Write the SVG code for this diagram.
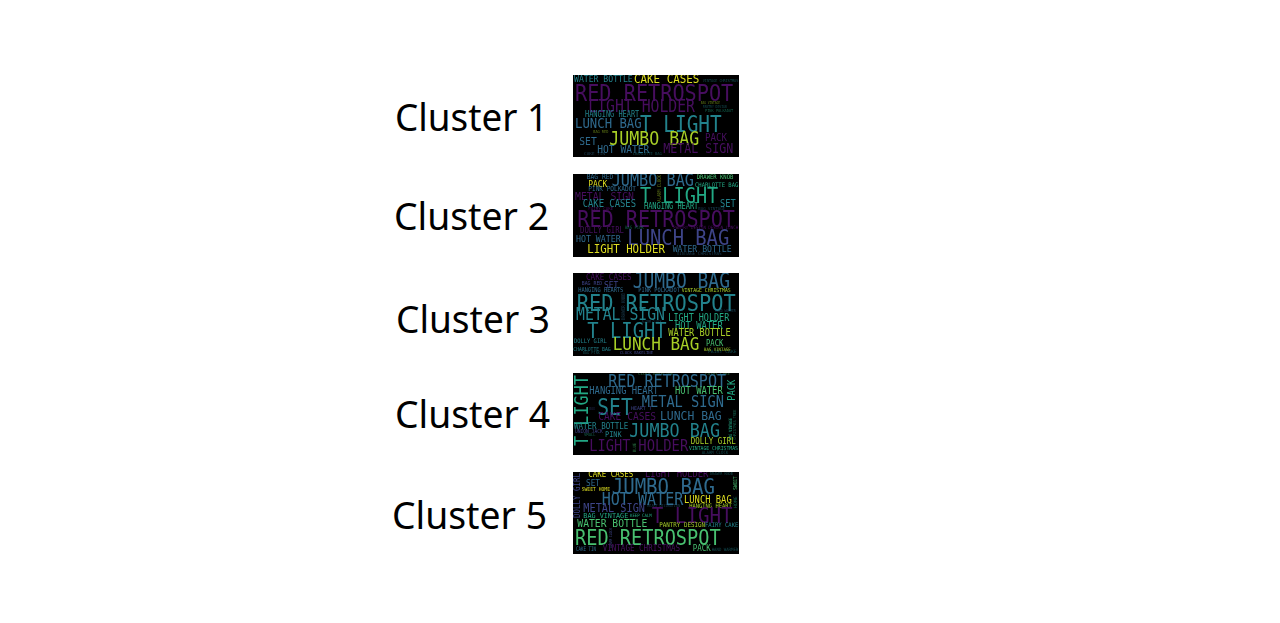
<svg xmlns="http://www.w3.org/2000/svg" width="1280" height="623" viewBox="0 0 1280 623">
<style>
.l{font-family:"Noto Sans","Open Sans","Liberation Sans",sans-serif;font-size:38px;fill:#000}
.bg{fill:#000}
.w text{font-family:"DejaVu Sans Mono","Liberation Mono",monospace}
.a{fill:#46105e}.b{fill:#3e4488}.c{fill:#2f6a8e}.d{fill:#23828c}.e{fill:#22a884}.f{fill:#48c070}.g{fill:#a8cf28}.h{fill:#dcdc20}.s{opacity:.55}
</style>
<defs>
<filter id="soft" x="-5%" y="-5%" width="110%" height="110%"><feGaussianBlur stdDeviation="0.45"/></filter>
<clipPath id="c1"><rect x="573" y="75" width="166" height="82"/></clipPath>
<clipPath id="c2"><rect x="573" y="174" width="166" height="83"/></clipPath>
<clipPath id="c3"><rect x="573" y="273" width="166" height="83"/></clipPath>
<clipPath id="c4"><rect x="573" y="373" width="166" height="82"/></clipPath>
<clipPath id="c5"><rect x="573" y="472" width="166" height="82"/></clipPath>
</defs>
<g id="cluster-1">
<text class="l" x="395" y="131" textLength="153" lengthAdjust="spacingAndGlyphs">Cluster 1</text>
<rect class="bg" x="573" y="75" width="166" height="82"/>
<g class="w" clip-path="url(#c1)"><g filter="url(#soft)">
<text class="d" x="574" y="82.3" font-size="9.3" textLength="58.7" lengthAdjust="spacingAndGlyphs">WATER BOTTLE</text>
<text class="h" x="634" y="82.7" font-size="12.4" textLength="65.3" lengthAdjust="spacingAndGlyphs">CAKE CASES</text>
<text class="a" x="575" y="100.7" font-size="23.2" textLength="158.3" lengthAdjust="spacingAndGlyphs">RED RETROSPOT</text>
<text class="a" x="588.3" y="111.7" font-size="17" textLength="106.7" lengthAdjust="spacingAndGlyphs">LIGHT HOLDER</text>
<text class="d" x="585" y="116.7" font-size="8" textLength="54.3" lengthAdjust="spacingAndGlyphs">HANGING HEART</text>
<text class="d" x="640" y="131.7" font-size="22.3" textLength="81.7" lengthAdjust="spacingAndGlyphs">T LIGHT</text>
<text class="c" x="575" y="128.3" font-size="14.1" textLength="66.7" lengthAdjust="spacingAndGlyphs">LUNCH BAG</text>
<text class="g" x="609.3" y="145" font-size="19.1" textLength="90" lengthAdjust="spacingAndGlyphs">JUMBO BAG</text>
<text class="a" x="705" y="141" font-size="10.5" textLength="22" lengthAdjust="spacingAndGlyphs">PACK</text>
<text class="c" x="579.3" y="145" font-size="11" textLength="17.4" lengthAdjust="spacingAndGlyphs">SET</text>
<text class="c" x="597.3" y="152.7" font-size="11" textLength="52" lengthAdjust="spacingAndGlyphs">HOT WATER</text>
<text class="a" x="663.3" y="153.3" font-size="13.3" textLength="70" lengthAdjust="spacingAndGlyphs">METAL SIGN</text>
<text class="d s" x="702.7" y="81.7" font-size="4" textLength="35.6" lengthAdjust="spacingAndGlyphs">VINTAGE CHRISTMAS</text>
<text class="g s" x="700.7" y="104.3" font-size="4" textLength="19.3" lengthAdjust="spacingAndGlyphs">BAG VINTAGE</text>
<text class="d s" x="702.7" y="107.7" font-size="4" textLength="24" lengthAdjust="spacingAndGlyphs">PANTRY DESIGN</text>
<text class="e s" x="705" y="111.7" font-size="4" textLength="28.3" lengthAdjust="spacingAndGlyphs">PINK POLKADOT</text>
<text class="g s" x="593.3" y="132.7" font-size="4" textLength="15" lengthAdjust="spacingAndGlyphs">BAG RED</text>
<text class="c s" x="584" y="155" font-size="4" textLength="21" lengthAdjust="spacingAndGlyphs">CAKE TIN</text>
<text class="d s" x="632.7" y="155" font-size="4" textLength="29" lengthAdjust="spacingAndGlyphs">CHARLOTTE BAG</text>
</g></g>
</g>
<g id="cluster-2">
<text class="l" x="394" y="230" textLength="155" lengthAdjust="spacingAndGlyphs">Cluster 2</text>
<rect class="bg" x="573" y="174" width="166" height="83"/>
<g class="w" clip-path="url(#c2)"><g filter="url(#soft)">
<text class="c" x="586.7" y="179" font-size="7.2" textLength="26.6" lengthAdjust="spacingAndGlyphs">BAG RED</text>
<text class="c" x="611.7" y="185.7" font-size="17.5" textLength="82.3" lengthAdjust="spacingAndGlyphs">JUMBO BAG</text>
<text class="f" x="696.7" y="178.7" font-size="6.3" textLength="36.6" lengthAdjust="spacingAndGlyphs">DRAWER KNOB</text>
<text class="h" x="588.3" y="186.7" font-size="9.2" textLength="19" lengthAdjust="spacingAndGlyphs">PACK</text>
<text class="e" x="695" y="186.7" font-size="6.3" textLength="43.3" lengthAdjust="spacingAndGlyphs">CHARLOTTE BAG</text>
<text class="g s" transform="translate(661,201.7) rotate(-90)" font-size="5.2" textLength="26.7" lengthAdjust="spacingAndGlyphs">ALARM CLOCK</text>
<text class="c" x="588.3" y="191" font-size="6.9" textLength="47.7" lengthAdjust="spacingAndGlyphs">PINK POLKADOT</text>
<text class="a" x="575" y="200" font-size="11.3" textLength="59" lengthAdjust="spacingAndGlyphs">METAL SIGN</text>
<text class="e" x="640" y="202.7" font-size="21.4" textLength="78.3" lengthAdjust="spacingAndGlyphs">T LIGHT</text>
<text class="d" x="582.7" y="206.7" font-size="10.1" textLength="53.3" lengthAdjust="spacingAndGlyphs">CAKE CASES</text>
<text class="e" x="644" y="209" font-size="8" textLength="54.3" lengthAdjust="spacingAndGlyphs">HANGING HEART</text>
<text class="d" x="720" y="206.7" font-size="10" textLength="15.7" lengthAdjust="spacingAndGlyphs">SET</text>
<text class="a" x="588.3" y="209.5" font-size="4" textLength="25" lengthAdjust="spacingAndGlyphs">FAIRY CAKE</text>
<text class="c s" x="698.3" y="209.5" font-size="4" textLength="26.7" lengthAdjust="spacingAndGlyphs">BAG VINTAGE</text>
<text class="a" x="577.3" y="226.7" font-size="23" textLength="157.7" lengthAdjust="spacingAndGlyphs">RED RETROSPOT</text>
<text class="a" x="580" y="233.3" font-size="8.4" textLength="44" lengthAdjust="spacingAndGlyphs">DOLLY GIRL</text>
<text class="e s" x="625" y="229.3" font-size="4.6" textLength="19" lengthAdjust="spacingAndGlyphs">BAG PINK</text>
<text class="a" x="673.3" y="229.3" font-size="4.6" textLength="32.7" lengthAdjust="spacingAndGlyphs">PANTRY DESIGN</text>
<text class="a" x="708.3" y="229.3" font-size="4.6" textLength="30" lengthAdjust="spacingAndGlyphs">DESIGN LUNCH</text>
<text class="c" x="576" y="241.7" font-size="9.5" textLength="44.7" lengthAdjust="spacingAndGlyphs">HOT WATER</text>
<text class="b" x="627.3" y="245" font-size="21.6" textLength="102" lengthAdjust="spacingAndGlyphs">LUNCH BAG</text>
<text class="h" x="587.3" y="253.3" font-size="12.3" textLength="77.7" lengthAdjust="spacingAndGlyphs">LIGHT HOLDER</text>
<text class="c" x="672.7" y="251.7" font-size="9.4" textLength="59" lengthAdjust="spacingAndGlyphs">WATER BOTTLE</text>
<text class="c s" x="676.7" y="254.5" font-size="4.6" textLength="45" lengthAdjust="spacingAndGlyphs">VINTAGE CHRISTMAS</text>
</g></g>
</g>
<g id="cluster-3">
<text class="l" x="396" y="333" textLength="154" lengthAdjust="spacingAndGlyphs">Cluster 3</text>
<rect class="bg" x="573" y="273" width="166" height="83"/>
<g class="w" clip-path="url(#c3)"><g filter="url(#soft)">
<text class="a" x="586" y="280" font-size="8.7" textLength="45.7" lengthAdjust="spacingAndGlyphs">CAKE CASES</text>
<text class="b" x="581.7" y="285" font-size="5.6" textLength="20.6" lengthAdjust="spacingAndGlyphs">BAG RED</text>
<text class="b" x="604" y="288.3" font-size="9.2" textLength="14.3" lengthAdjust="spacingAndGlyphs">SET</text>
<text class="c" x="632.7" y="288.3" font-size="20.7" textLength="97.3" lengthAdjust="spacingAndGlyphs">JUMBO BAG</text>
<text class="c" x="578.3" y="292.3" font-size="6.4" textLength="45" lengthAdjust="spacingAndGlyphs">HANGING HEARTS</text>
<text class="c" x="638.3" y="292.3" font-size="6.1" textLength="41.7" lengthAdjust="spacingAndGlyphs">PINK POLKADOT</text>
<text class="g" x="681.7" y="292.3" font-size="5.5" textLength="49" lengthAdjust="spacingAndGlyphs">VINTAGE CHRISTMAS</text>
<text class="d" x="576.7" y="310.7" font-size="23.3" textLength="159" lengthAdjust="spacingAndGlyphs">RED RETROSPOT</text>
<text class="d" x="576" y="320" font-size="17" textLength="89" lengthAdjust="spacingAndGlyphs">METAL SIGN</text>
<text class="c s" transform="translate(625,320) rotate(-90)" font-size="5.2" textLength="26.7" lengthAdjust="spacingAndGlyphs">DRAWER KNOB</text>
<text class="c s" x="715" y="311.7" font-size="4" textLength="20.7" lengthAdjust="spacingAndGlyphs">HAND WARMER</text>
<text class="e" x="668.3" y="321" font-size="9.7" textLength="61" lengthAdjust="spacingAndGlyphs">LIGHT HOLDER</text>
<text class="c s" x="641.7" y="323.3" font-size="4" textLength="20" lengthAdjust="spacingAndGlyphs">ALARM CLOCK</text>
<text class="d" x="587.3" y="338.3" font-size="21.6" textLength="79.4" lengthAdjust="spacingAndGlyphs">T LIGHT</text>
<text class="e" x="675" y="329" font-size="10.1" textLength="47.7" lengthAdjust="spacingAndGlyphs">HOT WATER</text>
<text class="g" x="668.3" y="335.7" font-size="9.9" textLength="62.4" lengthAdjust="spacingAndGlyphs">WATER BOTTLE</text>
<text class="d" x="574" y="343.3" font-size="6.2" textLength="32.7" lengthAdjust="spacingAndGlyphs">DOLLY GIRL</text>
<text class="g" x="612.7" y="350" font-size="18.4" textLength="86.6" lengthAdjust="spacingAndGlyphs">LUNCH BAG</text>
<text class="f" x="706" y="346" font-size="8.3" textLength="17.3" lengthAdjust="spacingAndGlyphs">PACK</text>
<text class="g" x="704" y="351" font-size="4.6" textLength="26.7" lengthAdjust="spacingAndGlyphs">BAG VINTAGE</text>
<text class="d" x="573.3" y="351" font-size="5.5" textLength="37.4" lengthAdjust="spacingAndGlyphs">CHARLOTTE BAG</text>
<text class="d s" x="582.7" y="354" font-size="4" textLength="17.3" lengthAdjust="spacingAndGlyphs">BAG PINK</text>
<text class="b" x="620" y="354.3" font-size="4" textLength="33" lengthAdjust="spacingAndGlyphs">CLOCK BAKELINE</text>
<text class="d s" x="708" y="353.3" font-size="4.6" textLength="28.7" lengthAdjust="spacingAndGlyphs">FAIRY CAKE</text>
</g></g>
</g>
<g id="cluster-4">
<text class="l" x="395" y="428" textLength="155" lengthAdjust="spacingAndGlyphs">Cluster 4</text>
<rect class="bg" x="573" y="373" width="166" height="82"/>
<g class="w" clip-path="url(#c4)"><g filter="url(#soft)">
<text class="f s" x="638.3" y="375.3" font-size="4" textLength="35" lengthAdjust="spacingAndGlyphs">CLOCK BAKELINE</text>
<text class="f s" x="705" y="375.3" font-size="4" textLength="25" lengthAdjust="spacingAndGlyphs">FAIRY CAKE</text>
<text class="e" transform="translate(588,446) rotate(-90)" font-size="19.5" textLength="71" lengthAdjust="spacingAndGlyphs">T LIGHT</text>
<text class="c" x="608.3" y="387.3" font-size="17.2" textLength="117.7" lengthAdjust="spacingAndGlyphs">RED RETROSPOT</text>
<text class="e" transform="translate(735,400.7) rotate(-90)" font-size="10" textLength="21" lengthAdjust="spacingAndGlyphs">PACK</text>
<text class="c" x="589.3" y="393.7" font-size="10.1" textLength="69" lengthAdjust="spacingAndGlyphs">HANGING HEART</text>
<text class="f" x="675" y="393.7" font-size="10.1" textLength="47.7" lengthAdjust="spacingAndGlyphs">HOT WATER</text>
<text class="d" x="597.3" y="414.7" font-size="22.5" textLength="35.4" lengthAdjust="spacingAndGlyphs">SET</text>
<text class="c" x="641.7" y="407.3" font-size="15.7" textLength="82.3" lengthAdjust="spacingAndGlyphs">METAL SIGN</text>
<text class="b s" x="589.3" y="409.7" font-size="4" textLength="5.7" lengthAdjust="spacingAndGlyphs">BOX</text>
<text class="b" x="631" y="409.7" font-size="5.2" textLength="20.7" lengthAdjust="spacingAndGlyphs">HEART T</text>
<text class="c" x="660" y="419.7" font-size="13.1" textLength="61.7" lengthAdjust="spacingAndGlyphs">LUNCH BAG</text>
<text class="a" x="598.3" y="420.3" font-size="11" textLength="57.7" lengthAdjust="spacingAndGlyphs">CAKE CASES</text>
<text class="d" x="574" y="429" font-size="8.6" textLength="54.3" lengthAdjust="spacingAndGlyphs">WATER BOTTLE</text>
<text class="d" x="629.3" y="437" font-size="19.2" textLength="90.7" lengthAdjust="spacingAndGlyphs">JUMBO BAG</text>
<text class="e" transform="translate(731.7,439.7) rotate(-90)" font-size="4.4" textLength="21.7" lengthAdjust="spacingAndGlyphs">BAG VINTAGE</text>
<text class="e s" transform="translate(736,439.7) rotate(-90)" font-size="4" textLength="30" lengthAdjust="spacingAndGlyphs">CHRISTMAS TREE</text>
<text class="b" x="575" y="433" font-size="5.4" textLength="27.7" lengthAdjust="spacingAndGlyphs">UNION JACK</text>
<text class="e s" x="584" y="436.3" font-size="4" textLength="11.7" lengthAdjust="spacingAndGlyphs">SMALL</text>
<text class="d" x="605" y="437" font-size="7.9" textLength="16.7" lengthAdjust="spacingAndGlyphs">PINK</text>
<text class="a" x="589.3" y="450.7" font-size="15.6" textLength="41.3" lengthAdjust="spacingAndGlyphs">LIGHT</text>
<text class="a" x="638.3" y="450.7" font-size="15.6" textLength="50" lengthAdjust="spacingAndGlyphs">HOLDER</text>
<text class="f s" transform="translate(635.7,452) rotate(-90)" font-size="4.4" textLength="9" lengthAdjust="spacingAndGlyphs">BLUE</text>
<text class="g" x="690.7" y="444" font-size="8.6" textLength="45" lengthAdjust="spacingAndGlyphs">DOLLY GIRL</text>
<text class="e" x="689" y="449.7" font-size="5.4" textLength="49" lengthAdjust="spacingAndGlyphs">VINTAGE CHRISTMAS</text>
<text class="d s" x="701.7" y="453.7" font-size="4.6" textLength="26.6" lengthAdjust="spacingAndGlyphs">ALARM CLOCK</text>
</g></g>
</g>
<g id="cluster-5">
<text class="l" x="392" y="529" textLength="155" lengthAdjust="spacingAndGlyphs">Cluster 5</text>
<rect class="bg" x="573" y="472" width="166" height="82"/>
<g class="w" clip-path="url(#c5)"><g filter="url(#soft)">
<text class="b" transform="translate(580,518) rotate(-90)" font-size="8.6" textLength="45" lengthAdjust="spacingAndGlyphs">DOLLY GIRL</text>
<text class="h" x="588.3" y="477.3" font-size="8.6" textLength="45" lengthAdjust="spacingAndGlyphs">CAKE CASES</text>
<text class="a" x="645" y="477.3" font-size="10" textLength="63.3" lengthAdjust="spacingAndGlyphs">LIGHT HOLDER</text>
<text class="d s" x="710" y="475.3" font-size="4" textLength="22.7" lengthAdjust="spacingAndGlyphs">DRAWER KNOB</text>
<text class="c" x="586" y="486.3" font-size="9" textLength="14" lengthAdjust="spacingAndGlyphs">SET</text>
<text class="h" x="581.7" y="490.7" font-size="5.4" textLength="28.3" lengthAdjust="spacingAndGlyphs">SWEET HOME</text>
<text class="c" x="611.7" y="494" font-size="21.9" textLength="103.3" lengthAdjust="spacingAndGlyphs">JUMBO BAG</text>
<text class="f" transform="translate(736.7,489.7) rotate(-90)" font-size="5.2" textLength="13.4" lengthAdjust="spacingAndGlyphs">SWEET</text>
<text class="c" x="601.7" y="505.3" font-size="17.3" textLength="81.6" lengthAdjust="spacingAndGlyphs">HOT WATER</text>
<text class="h" x="684" y="503" font-size="10.1" textLength="47.7" lengthAdjust="spacingAndGlyphs">LUNCH BAG</text>
<text class="g" x="689.3" y="508" font-size="6.2" textLength="42.4" lengthAdjust="spacingAndGlyphs">HANGING HEART</text>
<text class="e s" transform="translate(736.7,508) rotate(-90)" font-size="4.6" textLength="11.7" lengthAdjust="spacingAndGlyphs">HOME</text>
<text class="b" x="583.3" y="512.3" font-size="11.7" textLength="61.7" lengthAdjust="spacingAndGlyphs">METAL SIGN</text>
<text class="c s" x="647.3" y="507.3" font-size="4" textLength="32.7" lengthAdjust="spacingAndGlyphs">HEART DECORATION</text>
<text class="e" x="583.3" y="518" font-size="7" textLength="45" lengthAdjust="spacingAndGlyphs">BAG VINTAGE</text>
<text class="e" x="630" y="517.3" font-size="4.6" textLength="21.7" lengthAdjust="spacingAndGlyphs">KEEP CALM</text>
<text class="a" x="651.7" y="523" font-size="22" textLength="81" lengthAdjust="spacingAndGlyphs">T LIGHT</text>
<text class="f" x="577.3" y="527.3" font-size="11.1" textLength="70" lengthAdjust="spacingAndGlyphs">WATER BOTTLE</text>
<text class="g" x="659.3" y="527.3" font-size="6.7" textLength="45.7" lengthAdjust="spacingAndGlyphs">PANTRY DESIGN</text>
<text class="d" x="705" y="527.3" font-size="6.3" textLength="33.3" lengthAdjust="spacingAndGlyphs">FAIRY CAKE</text>
<text class="f" x="575" y="544.7" font-size="21.4" textLength="145.7" lengthAdjust="spacingAndGlyphs">RED RETROSPOT</text>
<text class="b" transform="translate(612,548) rotate(-90)" font-size="4" textLength="20" lengthAdjust="spacingAndGlyphs">ALARM CLOCK</text>
<text class="c" x="576" y="551.3" font-size="6.3" textLength="20" lengthAdjust="spacingAndGlyphs">CAKE TIN</text>
<text class="a" x="602.7" y="551.3" font-size="8.6" textLength="77.3" lengthAdjust="spacingAndGlyphs">VINTAGE CHRISTMAS</text>
<text class="f" x="692.7" y="550.7" font-size="8.6" textLength="18" lengthAdjust="spacingAndGlyphs">PACK</text>
<text class="d s" x="711.7" y="551.3" font-size="4.6" textLength="26.6" lengthAdjust="spacingAndGlyphs">HAND WARMER</text>
</g></g>
</g>
<g id="connectors"/>
</svg>
